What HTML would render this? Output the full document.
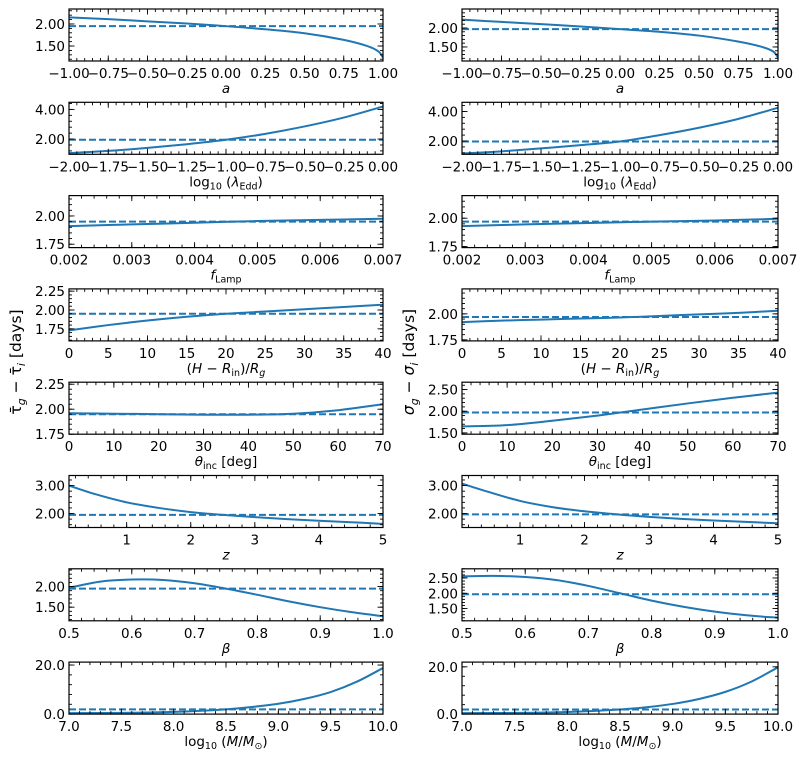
<!DOCTYPE html>
<html><head><meta charset="utf-8"><style>
html,body{margin:0;padding:0;background:#fff;}
svg{display:block;font-family:"DejaVu Sans","Liberation Sans",sans-serif;}
</style></head><body>
<svg id="fig" width="805" height="759" viewBox="0 0 805 759">
<text transform="translate(21,362) rotate(-90)" text-anchor="middle" font-size="15.5">τ̄<tspan font-size="11" dy="4" font-style="italic">g</tspan><tspan dy="-4"> − τ̄</tspan><tspan font-size="11" dy="4" font-style="italic">i</tspan><tspan dy="-4"> [days]</tspan></text>
<text transform="translate(414,362) rotate(-90)" text-anchor="middle" font-size="15.5"><tspan font-style="italic">σ</tspan><tspan font-size="11" dy="4" font-style="italic">g</tspan><tspan dy="-4"> − </tspan><tspan font-style="italic">σ</tspan><tspan font-size="11" dy="4" font-style="italic">i</tspan><tspan dy="-4"> [days]</tspan></text>
</svg>
<script>
// ---- data ----
const aX = [-1,-0.75,-0.5,-0.25,0,0.25,0.5,0.75,0.9,0.97,1];
const aTau = [2.15,2.11,2.06,2.01,1.95,1.88,1.79,1.64,1.5,1.38,1.24];
const aSig = [2.22,2.16,2.1,2.04,1.97,1.9,1.8,1.64,1.5,1.38,1.22];
const lamX = [-2,-1.75,-1.5,-1.25,-1,-0.75,-0.5,-0.25,0];
const lamTau = [1.05,1.2,1.4,1.65,1.95,2.35,2.85,3.45,4.2];
const lamSig = [1.15,1.3,1.5,1.72,1.97,2.4,2.9,3.5,4.25];
const fX = [0.002,0.003,0.004,0.005,0.006,0.007];
const fTau = [1.91,1.925,1.94,1.955,1.965,1.975];
const fSig = [1.93,1.945,1.958,1.97,1.98,1.995];
const hX = [0,5,10,15,20,25,30,35,40];
const hTau = [1.73,1.8,1.86,1.91,1.95,1.98,2.01,2.04,2.07];
const hSig = [1.92,1.935,1.945,1.955,1.965,1.98,1.995,2.01,2.03];
const thX = [0,10,20,30,40,50,60,70];
const thTau = [1.96,1.955,1.95,1.945,1.945,1.955,1.99,2.05];
const thSig = [1.65,1.68,1.78,1.9,2.04,2.18,2.31,2.43];
const zX = [0.1,0.5,1,1.5,2,2.5,3,3.5,4,4.5,5];
const zTau = [3.0,2.7,2.4,2.2,2.05,1.95,1.87,1.8,1.74,1.69,1.63];
const zSig = [3.07,2.78,2.45,2.23,2.08,1.97,1.88,1.81,1.75,1.7,1.65];
const bX = [0.5,0.55,0.6,0.65,0.7,0.75,0.8,0.85,0.9,0.95,1];
const bTau = [1.97,2.12,2.17,2.16,2.08,1.95,1.8,1.64,1.5,1.38,1.28];
const bSig = [2.55,2.57,2.53,2.43,2.24,2.0,1.76,1.56,1.4,1.28,1.2];
const mX = [7,7.5,8,8.5,8.75,9,9.25,9.5,9.75,10];
const mTau = [0.4,0.5,0.9,1.95,2.9,4.2,6.2,9.0,13.2,18.8];
const mSig = [0.4,0.5,0.9,1.95,2.9,4.3,6.4,9.4,13.8,19.8];
const tauRef = 1.95;
const sigRef = 1.97;

const aTicks = [-1,-0.75,-0.5,-0.25,0,0.25,0.5,0.75,1];
const lamTicks = [-2,-1.75,-1.5,-1.25,-1,-0.75,-0.5,-0.25,0];
const fTicks = [0.002,0.003,0.004,0.005,0.006,0.007];
const hTicks = [0,5,10,15,20,25,30,35,40];
const thTicks = [0,10,20,30,40,50,60,70];
const zTicks = [1,2,3,4,5];
const bTicks = [0.5,0.6,0.7,0.8,0.9,1.0];
const mTicks = [7,7.5,8,8.5,9,9.5,10];

const NS = "http://www.w3.org/2000/svg";
const svg = document.getElementById('fig');
const BLUE = "#1f77b4";
function mk(tag, attrs, parent){ const e=document.createElementNS(NS,tag); for(const k in attrs) e.setAttribute(k,attrs[k]); (parent||svg).appendChild(e); return e; }
function fmt(v,d){ const s=Math.abs(v).toFixed(d); return (v< -1e-12?"−":"")+s; }

const rows = [
 {x:aX, tau:aTau, sig:aSig, xl:[-1,1], xt:aTicks, xd:2, xmin:0.05, label:'<tspan font-style="italic">a</tspan>', name:'spin',
  L:{yl:[1.16,2.34], yt:[1.5,2.0], ym:0.1, yd:2}, R:{yl:[1.13,2.5], yt:[1.5,2.0], ym:0.1, yd:2}},
 {x:lamX, tau:lamTau, sig:lamSig, xl:[-2,0], xt:lamTicks, xd:2, xmin:0.05, label:'log<tspan font-size="9.5" dy="3">10</tspan><tspan dy="-3"> (</tspan><tspan font-style="italic">λ</tspan><tspan font-size="9.5" dy="3">Edd</tspan><tspan dy="-3">)</tspan>', name:'eddington',
  L:{yl:[0.97,4.48], yt:[2,4], ym:0.4, yd:2}, R:{yl:[1.1,4.62], yt:[2,4], ym:0.4, yd:2}},
 {x:fX, tau:fTau, sig:fSig, xl:[0.002,0.007], xt:fTicks, xd:3, xmin:0.0002, label:'<tspan font-style="italic">f</tspan><tspan font-size="9.5" dy="3">Lamp</tspan>', name:'flamp',
  L:{yl:[1.72,2.18], yt:[1.75,2.0], ym:0.05, yd:2}, R:{yl:[1.74,2.2], yt:[1.75,2.0], ym:0.05, yd:2}},
 {x:hX, tau:hTau, sig:hSig, xl:[0,40], xt:hTicks, xd:0, xmin:1, label:'(<tspan font-style="italic">H</tspan> − <tspan font-style="italic">R</tspan><tspan font-size="9.5" dy="3">in</tspan><tspan dy="-3">)/</tspan><tspan font-style="italic">R</tspan><tspan font-size="9.5" dy="3" font-style="italic">g</tspan>', name:'height',
  L:{yl:[1.59,2.28], yt:[1.75,2.0,2.25], ym:0.05, yd:2}, R:{yl:[1.74,2.24], yt:[1.75,2.0], ym:0.05, yd:2}},
 {x:thX, tau:thTau, sig:thSig, xl:[0,70], xt:thTicks, xd:0, xmin:2, label:'<tspan font-style="italic">θ</tspan><tspan font-size="9.5" dy="3">inc</tspan><tspan dy="-3"> [deg]</tspan>', name:'inclination',
  L:{yl:[1.75,2.27], yt:[1.75,2.0,2.25], ym:0.05, yd:2}, R:{yl:[1.47,2.67], yt:[1.5,2.0,2.5], ym:0.1, yd:2}},
 {x:zX, tau:zTau, sig:zSig, xl:[0.1,5], xt:zTicks, xd:0, xmin:0.2, label:'<tspan font-style="italic">z</tspan>', name:'redshift',
  L:{yl:[1.5,3.36], yt:[2,3], ym:0.2, yd:2}, R:{yl:[1.5,3.36], yt:[2,3], ym:0.2, yd:2}},
 {x:bX, tau:bTau, sig:bSig, xl:[0.5,1], xt:bTicks, xd:1, xmin:0.02, label:'<tspan font-style="italic">β</tspan>', name:'beta',
  L:{yl:[1.17,2.43], yt:[1.5,2.0], ym:0.1, yd:2}, R:{yl:[1.1,2.8], yt:[1.5,2.0,2.5], ym:0.1, yd:2}},
 {x:mX, tau:mTau, sig:mSig, xl:[7,10], xt:mTicks, xd:1, xmin:0.1, label:'log<tspan font-size="9.5" dy="3">10</tspan><tspan dy="-3"> (</tspan><tspan font-style="italic">M</tspan>/<tspan font-style="italic">M</tspan><tspan font-size="9.5" dy="3">⊙</tspan><tspan dy="-3">)</tspan>', name:'mass',
  L:{yl:[0,21.2], yt:[0,20], ym:4, yd:1}, R:{yl:[0,22], yt:[0,20], ym:4, yd:1}}
];

const cols = [{x0:69,x1:383,key:'L',ser:'tau',ref:tauRef,side:'left'},{x0:462,x1:778,key:'R',ser:'sig',ref:sigRef,side:'right'}];
const H = 52;

function smoothPath(pts){
  let d = "M"+pts[0][0].toFixed(2)+","+pts[0][1].toFixed(2);
  for(let i=0;i<pts.length-1;i++){
    const p0=pts[i-1]||pts[i], p1=pts[i], p2=pts[i+1], p3=pts[i+2]||p2;
    const c1=[p1[0]+(p2[0]-p0[0])/6, p1[1]+(p2[1]-p0[1])/6];
    const c2=[p2[0]-(p3[0]-p1[0])/6, p2[1]-(p3[1]-p1[1])/6];
    d+=" C"+c1[0].toFixed(2)+","+c1[1].toFixed(2)+" "+c2[0].toFixed(2)+","+c2[1].toFixed(2)+" "+p2[0].toFixed(2)+","+p2[1].toFixed(2);
  }
  return d;
}

rows.forEach((r,ri)=>{
  const top = 9 + ri*93.3, bot = top+H;
  cols.forEach(c=>{
    const cfg = r[c.key];
    const g = mk('g',{});
    
    
    const sx = v => c.x0 + (v-r.xl[0])/(r.xl[1]-r.xl[0])*(c.x1-c.x0);
    const sy = v => bot - (v-cfg.yl[0])/(cfg.yl[1]-cfg.yl[0])*H;
    const clipId = 'clip'+ri+c.key;
    const cp = mk('clipPath',{id:clipId},g); mk('rect',{x:c.x0,y:top,width:c.x1-c.x0,height:H},cp);
    const dl = mk('line',{x1:c.x0,x2:c.x1,y1:sy(c.ref),y2:sy(c.ref),stroke:BLUE,'stroke-width':2,'stroke-dasharray':'7,3','clip-path':'url(#'+clipId+')'},g);
    
    
    const vals = r[c.ser];
    const pts = r.x.map((xv,i)=>[sx(xv), sy(vals[i])]);
    const cv = mk('path',{d:smoothPath(pts),fill:'none',stroke:BLUE,'stroke-width':2,'clip-path':'url(#'+clipId+')'},g);
    
    
    const tk = mk('g',{stroke:'#000','stroke-width':0.9},g);
    
    
    const ex = 1e-9;
    for(let v=Math.ceil((r.xl[0]-ex)/r.xmin)*r.xmin; v<=r.xl[1]+ex; v+=r.xmin){
      const X=sx(v); if(X<c.x0-0.5||X>c.x1+0.5) continue;
      mk('line',{x1:X,x2:X,y1:bot,y2:bot-3},tk); mk('line',{x1:X,x2:X,y1:top,y2:top+3},tk);
    }
    r.xt.forEach(v=>{ const X=sx(v);
      mk('line',{x1:X,x2:X,y1:bot,y2:bot-5.5},tk); mk('line',{x1:X,x2:X,y1:top,y2:top+5.5},tk);
      const t=mk('text',{x:X,y:bot+17,'text-anchor':'middle','font-size':13.5,fill:'#000',stroke:'none'},g);
      t.textContent = fmt(v,r.xd);
      
      
    });
    for(let v=Math.ceil((cfg.yl[0]-ex)/cfg.ym)*cfg.ym; v<=cfg.yl[1]+ex; v+=cfg.ym){
      const Y=sy(v); if(Y<top-0.5||Y>bot+0.5) continue;
      mk('line',{x1:c.x0,x2:c.x0+3,y1:Y,y2:Y},tk); mk('line',{x1:c.x1,x2:c.x1-3,y1:Y,y2:Y},tk);
    }
    cfg.yt.forEach(v=>{ const Y=sy(v);
      mk('line',{x1:c.x0,x2:c.x0+5.5,y1:Y,y2:Y},tk); mk('line',{x1:c.x1,x2:c.x1-5.5,y1:Y,y2:Y},tk);
      const t=mk('text',{x:c.x0-4,y:Y+5,'text-anchor':'end','font-size':13.5,fill:'#000',stroke:'none'},g);
      t.textContent = v.toFixed(cfg.yd);
      
      
    });
    mk('rect',{x:c.x0,y:top,width:c.x1-c.x0,height:H,fill:'none',stroke:'#000','stroke-width':1.2},g);
    const xl = mk('text',{x:(c.x0+c.x1)/2,y:bot+32,'text-anchor':'middle','font-size':13.5,fill:'#000'},g);
    xl.innerHTML = r.label;
    
    
  });
});
</script>
</body></html>
